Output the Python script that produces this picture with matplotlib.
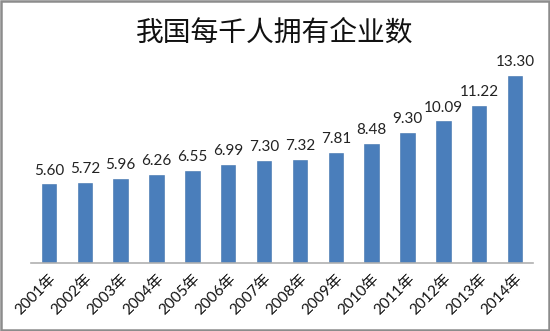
import matplotlib
matplotlib.use("Agg")
import matplotlib.pyplot as plt
from matplotlib.patches import Rectangle

# 年份与每千人企业数
years = ["2001年", "2002年", "2003年", "2004年", "2005年", "2006年", "2007年",
         "2008年", "2009年", "2010年", "2011年", "2012年", "2013年", "2014年"]
values = [5.60, 5.72, 5.96, 6.26, 6.55, 6.99, 7.30,
          7.32, 7.81, 8.48, 9.30, 10.09, 11.22, 13.30]

TITLE = "我国每千人拥有企业数"
BAR_COLOR = "#4a7ebb"
FONTS = ["Lato", "Noto Sans CJK SC", "DejaVu Sans"]

plt.rcParams["font.family"] = FONTS

fig = plt.figure(figsize=(5.5, 3.31), dpi=100)
ax = fig.add_axes([0.0564, 0.2054, 0.9127, 0.5934])

x = list(range(len(years)))
bars = ax.bar(x, values, width=0.4, color=BAR_COLOR, edgecolor="#3f71ad", linewidth=0.4)

for xi, v in zip(x, values):
    ax.annotate(f"{v:.2f}", (xi, v), xytext=(0, 5), textcoords="offset points",
                ha="center", va="bottom", fontsize=11, color="#222222")

ax.set_xlim(-0.5, len(years) - 0.5)
ax.set_ylim(0, 14)
ax.set_yticks([])
ax.spines[["top", "right", "left"]].set_visible(False)
ax.spines["bottom"].set_color("#b0b0b0")
ax.spines["bottom"].set_linewidth(1.2)

ax.set_xticks(x)
ax.set_xticklabels(years, rotation=45, ha="right", va="top",
                   rotation_mode="anchor", fontsize=11, color="#111111")
ax.tick_params(axis="x", length=0, pad=6)

fig.text(0.5, 0.90, TITLE, ha="center", va="center", fontsize=20,
         family=["Noto Sans CJK SC", "DejaVu Sans"], color="#111111")

# 外边框
fig.patches.append(Rectangle((0.002, 0.003), 0.996, 0.994, transform=fig.transFigure,
                             fill=False, edgecolor="#8c8c8c", linewidth=1.8))

fig.savefig("out.png", dpi=100, facecolor="white")
